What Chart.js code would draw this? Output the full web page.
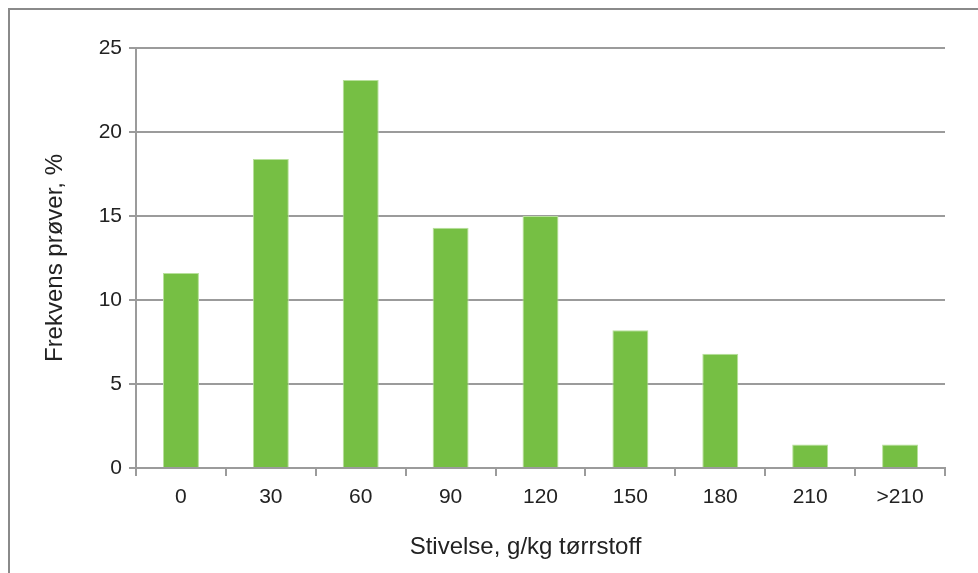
<!DOCTYPE html>
<html>
<head>
<meta charset="utf-8">
<script src="https://cdn.jsdelivr.net/npm/chart.js@4/dist/chart.umd.min.js"></script>
<style>
  html, body { margin: 0; padding: 0; background: #fff; }
  #wrap { width: 978px; height: 573px; position: relative; }
</style>
</head>
<body>
<div id="wrap"><canvas id="c" width="978" height="573"></canvas></div>
<script>
// Starch content classes (g/kg dry matter) and share of samples (%)
const categories = ['0', '30', '60', '90', '120', '150', '180', '210', '>210'];
const frequency = [11.6, 18.4, 23.1, 14.3, 15.0, 8.2, 6.8, 1.4, 1.4];
const yTicks = [0, 5, 10, 15, 20, 25];
const xTitle = 'Stivelse, g/kg tørrstoff';
const yTitle = 'Frekvens prøver, %';

const FONT = '"Liberation Sans", Arial, Helvetica, sans-serif';
const GRID = '#9b9b9b';
const TEXT = '#222222';

// Thin frame along the top and left edges of the figure,
// plus the x-axis caption placed slightly left of the plot centre
const framePlugin = {
  id: 'frame',
  beforeDraw(chart) {
    const ctx = chart.ctx;
    ctx.save();
    ctx.strokeStyle = '#8a8a8a';
    ctx.lineWidth = 2;
    ctx.beginPath();
    ctx.moveTo(9, 573);
    ctx.lineTo(9, 9);
    ctx.lineTo(978, 9);
    ctx.stroke();
    ctx.restore();
  },
  afterDraw(chart) {
    const ctx = chart.ctx;
    const area = chart.chartArea;
    ctx.save();
    ctx.fillStyle = TEXT;
    ctx.font = '24px ' + FONT;
    ctx.textAlign = 'center';
    ctx.textBaseline = 'middle';
    ctx.fillText(xTitle, (area.left + area.right) / 2 - 15, chart.height - 26);
    ctx.restore();
  }
};

new Chart(document.getElementById('c'), {
  type: 'bar',
  data: {
    labels: categories,
    datasets: [{
      data: frequency,
      backgroundColor: '#76bf44',
      borderColor: '#b8e09c',
      borderWidth: 1,
      barPercentage: 0.4,
      categoryPercentage: 1.0
    }]
  },
  options: {
    responsive: false,
    animation: false,
    events: [],
    layout: { padding: { left: 0, top: 48, right: 33, bottom: 0 } },
    plugins: { legend: { display: false }, tooltip: { enabled: false } },
    scales: {
      x: {
        grid: {
          offset: true,
          drawOnChartArea: false,
          drawTicks: true,
          tickLength: 8,
          color: GRID,
          lineWidth: 2
        },
        border: { color: GRID, width: 2 },
        ticks: {
          color: TEXT,
          font: { family: FONT, size: 21 },
          padding: 9,
          maxRotation: 0
        },
        afterFit(scale) { scale.height = 105; }
      },
      y: {
        min: 0,
        max: 25,
        afterBuildTicks(scale) { scale.ticks = yTicks.map(v => ({ value: v })); },
        grid: {
          color: GRID,
          lineWidth: 2,
          drawTicks: true,
          tickLength: 7
        },
        border: { color: GRID, width: 2 },
        ticks: {
          color: TEXT,
          font: { family: FONT, size: 21 },
          padding: 7
        },
        title: {
          display: true,
          text: yTitle,
          color: TEXT,
          font: { family: FONT, size: 24 },
          padding: { top: 41, bottom: 0 }
        },
        afterFit(scale) { scale.width = 136; }
      }
    }
  },
  plugins: [framePlugin]
});
</script>
</body>
</html>
